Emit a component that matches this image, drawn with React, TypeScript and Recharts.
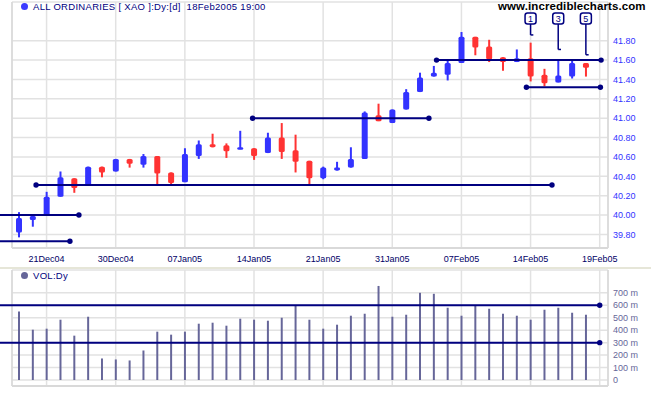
import { Bar, CartesianGrid, ComposedChart, ReferenceDot, ReferenceLine, XAxis, YAxis } from "recharts";

const FONT = "'Liberation Sans', Arial, sans-serif";
const NAVY = "#000080";

// 42 trading days, 17Dec04 .. 18Feb05
const days = [
  "17Dec04", "20Dec04", "21Dec04", "22Dec04", "23Dec04", "24Dec04", "29Dec04", "30Dec04", "31Dec04",
  "04Jan05", "05Jan05", "06Jan05", "07Jan05", "10Jan05", "11Jan05", "12Jan05", "13Jan05", "14Jan05",
  "17Jan05", "18Jan05", "19Jan05", "20Jan05", "21Jan05", "24Jan05", "25Jan05", "27Jan05", "28Jan05",
  "31Jan05", "01Feb05", "02Feb05", "03Feb05", "04Feb05", "07Feb05", "08Feb05", "09Feb05", "10Feb05",
  "11Feb05", "14Feb05", "15Feb05", "16Feb05", "17Feb05", "18Feb05",
];
const open = [
  39.82, 39.95, 40.0, 40.19, 40.38, 40.31, 40.5, 40.45, 40.58, 40.52, 40.61, 40.44, 40.34, 40.61,
  40.73, 40.72, 40.68, 40.69, 40.64, 40.8, 40.67, 40.56, 40.38, 40.46, 40.49, 40.58, 41.03, 40.95,
  41.09, 41.27, 41.43, 41.45, 41.57, 41.84, 41.74, 41.63, 41.58, 41.62, 41.45, 41.37, 41.43, 41.57,
];
const high = [
  40.03, 39.99, 40.24, 40.45, 40.38, 40.5, 40.5, 40.58, 40.58, 40.63, 40.61, 40.44, 40.69, 40.77,
  40.84, 40.74, 40.87, 40.69, 40.85, 40.95, 40.83, 40.56, 40.5, 40.55, 40.7, 41.07, 41.15, 41.09,
  41.3, 41.47, 41.54, 41.6, 41.89, 41.84, 41.81, 41.63, 41.71, 41.78, 41.51, 41.6, 41.6, 41.57,
];
const low = [
  39.77, 39.88, 40.0, 40.19, 40.23, 40.31, 40.39, 40.45, 40.49, 40.49, 40.31, 40.31, 40.34, 40.58,
  40.7, 40.59, 40.68, 40.57, 40.64, 40.58, 40.44, 40.32, 40.37, 40.46, 40.49, 40.58, 40.97, 40.95,
  41.09, 41.27, 41.43, 41.39, 41.57, 41.65, 41.58, 41.49, 41.58, 41.38, 41.33, 41.37, 41.41, 41.43,
];
const close = [
  39.97, 39.99, 40.19, 40.39, 40.28, 40.5, 40.44, 40.58, 40.53, 40.61, 40.43, 40.33, 40.63, 40.73,
  40.7, 40.66, 40.7, 40.61, 40.8, 40.65, 40.55, 40.38, 40.49, 40.49, 40.58, 41.06, 40.97, 41.09,
  41.27, 41.42, 41.47, 41.57, 41.84, 41.73, 41.61, 41.58, 41.62, 41.43, 41.36, 41.44, 41.57, 41.52,
];
// volume, millions
const volume = [
  550, 404, 412, 484, 356, 508, 173, 165, 157, 237, 388, 364, 388, 452, 460, 436, 492, 484, 476,
  500, 596, 484, 412, 444, 516, 532, 755, 508, 524, 700, 692, 580, 516, 596, 572, 532, 516, 484,
  564, 580, 540, 524,
];

const tickDays = [2, 7, 12, 17, 22, 27, 32, 37, 42];
const tickLabels = ["21Dec04", "30Dec04", "07Jan05", "14Jan05", "21Jan05", "31Jan05", "07Feb05", "14Feb05", "19Feb05"];
const priceTicks = [39.8, 40.0, 40.2, 40.4, 40.6, 40.8, 41.0, 41.2, 41.4, 41.6, 41.8];
const volTicks = [0, 100, 200, 300, 400, 500, 600, 700];

// horizontal lines drawn on the chart: [fromDay, toDay, level, dot at start]
const priceLines: [number, number, number, boolean][] = [
  [30.2, 42.1, 41.6, true],
  [36.7, 42.05, 41.32, true],
  [16.9, 29.65, 41.0, true],
  [1.24, 38.55, 40.31, true],
  [-1.4, 4.34, 40.0, false],
  [-1.4, 3.69, 39.73, false],
];
const volLines: [number, number][] = [
  [42.0, 600],
  [42.0, 300],
];

const annDays = [37, 39, 41];
const annLabels = ["1", "3", "5"];
const annEnds = [41.86, 41.71, 41.655];

const rows = days.map((d, i) => ({
  i,
  date: d,
  o: open[i],
  h: high[i],
  l: low[i],
  c: close[i],
  range: [low[i], high[i]],
  vol: volume[i],
}));

const Candle = (props: any) => {
  const { x, y, width, height, payload } = props;
  if (payload == null) return null;
  const top = Math.min(y, y + height);
  const hh = Math.abs(height);
  const span = payload.h - payload.l || 1;
  const py = (v: number) => top + ((payload.h - v) / span) * hh;
  const cx = x + width / 2;
  const color = payload.c >= payload.o ? "#3333ff" : "#ff3333";
  const bTop = py(Math.max(payload.o, payload.c));
  const bBot = py(Math.min(payload.o, payload.c));
  return (
    <g>
      <rect x={cx - 1} y={top} width={2} height={hh} fill={color} />
      <rect x={cx - 3} y={bTop} width={6} height={Math.max(bBot - bTop, 2.5)} rx={1.5} fill={color} />
    </g>
  );
};

const AnnBox = (props: any) => {
  const { cx, cy, label } = props;
  return (
    <g>
      <rect x={cx - 5.5} y={cy - 5.5} width={11} height={11} rx={2.5} fill="#fff" stroke={NAVY} strokeWidth={1.5} />
      <text x={cx} y={cy + 3.3} textAnchor="middle" fontSize={9} fontFamily={FONT} fill={NAVY}>
        {label}
      </text>
    </g>
  );
};

const gridColor = "#e2e2e2";
const frameColor = "#d9d9d9";

export default function App() {
  return (
    <div style={{ position: "absolute", left: 0, top: 0, width: 651, height: 395, background: "#fff", fontFamily: FONT }}>
      <ComposedChart width={651} height={268} data={rows} margin={{ top: 2, right: 0, bottom: 0, left: 12 }}>
        <CartesianGrid stroke={gridColor} strokeWidth={1.5} />
        <XAxis
          dataKey="i"
          type="number"
          domain={[-0.5, 42.6]}
          allowDataOverflow
          ticks={tickDays}
          interval={0}
          tickFormatter={(v) => tickLabels[tickDays.indexOf(v)] ?? ""}
          axisLine={false}
          tickLine={false}
          height={20}
          tick={{ fill: "#000066", fontSize: 9, fontFamily: FONT }}
        />
        <YAxis
          orientation="right"
          domain={[39.66, 42.2]}
          allowDataOverflow
          ticks={priceTicks}
          interval={0}
          width={43}
          axisLine={false}
          tickLine={false}
          tickSize={3}
          tickMargin={2}
          tickFormatter={(v) => Number(v).toFixed(2)}
          tick={{ fill: "#3333ff", fontSize: 9, fontFamily: FONT }}
        />
        <ReferenceLine x={-0.5} stroke={frameColor} strokeWidth={1.5} />
        <ReferenceLine x={42.6} stroke={frameColor} strokeWidth={1.5} />
        <ReferenceLine y={39.66} stroke={frameColor} strokeWidth={2} />
        <Bar dataKey="range" barSize={6} shape={<Candle />} isAnimationActive={false} />
        {priceLines.map(([a, b, lv], k) => (
          <ReferenceLine
            key={"pl" + k}
            segment={[{ x: a, y: lv }, { x: b, y: lv }]}
            stroke={NAVY}
            strokeWidth={2}
            ifOverflow="visible"
          />
        ))}
        {priceLines.map(([a, b, lv, dotStart], k) => [
          dotStart ? (
            <ReferenceDot key={"pa" + k} x={a} y={lv} r={2.7} fill={NAVY} stroke="none" ifOverflow="visible" />
          ) : null,
          <ReferenceDot key={"pb" + k} x={b} y={lv} r={2.7} fill={NAVY} stroke="none" ifOverflow="visible" />,
        ])}
        {annDays.map((d, k) => (
          <ReferenceLine
            key={"av" + k}
            segment={[{ x: d, y: annEnds[k] }, { x: d, y: 41.99 }]}
            stroke={NAVY}
            strokeWidth={1.5}
            ifOverflow="visible"
          />
        ))}
        {annDays.map((d, k) => (
          <ReferenceLine
            key={"ah" + k}
            segment={[{ x: d, y: annEnds[k] }, { x: d + 0.2, y: annEnds[k] }]}
            stroke={NAVY}
            strokeWidth={1.5}
            ifOverflow="visible"
          />
        ))}
        {annDays.map((d, k) => (
          <ReferenceDot
            key={"ab" + k}
            x={d}
            y={42.03}
            ifOverflow="visible"
            shape={(p: any) => <AnnBox {...p} label={annLabels[k]} />}
          />
        ))}
      </ComposedChart>

      <div style={{ position: "absolute", left: 0, top: 267, width: 651, height: 2, background: "#e6e6d8" }} />

      <div style={{ position: "absolute", left: 0, top: 269 }}>
        <ComposedChart width={651} height={126} data={rows} margin={{ top: 1, right: 0, bottom: 9, left: 12 }}>
          <CartesianGrid stroke={gridColor} strokeWidth={1.5} />
          <XAxis dataKey="i" type="number" domain={[-0.5, 42.6]} allowDataOverflow ticks={tickDays} hide />
          <YAxis
            orientation="right"
            domain={[-48, 883]}
            allowDataOverflow
            ticks={volTicks}
            interval={0}
            width={43}
            axisLine={false}
            tickLine={false}
            tickSize={3}
            tickMargin={2}
            tickFormatter={(v) => (v === 0 ? "0" : `${v} m`)}
            tick={{ fill: "#666699", fontSize: 9, fontFamily: FONT }}
          />
          <ReferenceLine x={-0.5} stroke={frameColor} strokeWidth={1.5} />
          <ReferenceLine x={42.6} stroke={frameColor} strokeWidth={1.5} />
          <ReferenceLine y={-48} stroke={frameColor} strokeWidth={2} />
          <Bar dataKey="vol" barSize={2} fill="#666699" isAnimationActive={false} />
          {volLines.map(([b, lv], k) => (
            <ReferenceLine
              key={"vl" + k}
              segment={[{ x: -1.4, y: lv }, { x: b, y: lv }]}
              stroke={NAVY}
              strokeWidth={2}
              ifOverflow="visible"
            />
          ))}
          {volLines.map(([b, lv], k) => (
            <ReferenceDot key={"vd" + k} x={b} y={lv} r={2.7} fill={NAVY} stroke="none" ifOverflow="visible" />
          ))}
        </ComposedChart>
      </div>

      <div style={{ position: "absolute", left: 21, top: 3, width: 7, height: 7, borderRadius: 4, background: "#3b3bff" }} />
      <div style={{ position: "absolute", left: 33, top: 0, fontSize: 9.5, lineHeight: "13px", color: NAVY, whiteSpace: "pre", letterSpacing: 0.3 }}>
        {"ALL ORDINARIES [ XAO ]:Dy:[d]  18Feb2005 19:00"}
      </div>
      <div style={{ position: "absolute", left: 498, top: 0, fontSize: 11.5, lineHeight: "12px", fontWeight: "bold", color: "#000", whiteSpace: "pre", letterSpacing: 0.1 }}>
        www.incrediblecharts.com
      </div>
      <div style={{ position: "absolute", left: 21, top: 272, width: 7, height: 7, borderRadius: 4, background: "#666699" }} />
      <div style={{ position: "absolute", left: 33, top: 269, fontSize: 9.5, lineHeight: "13px", color: NAVY, whiteSpace: "pre", letterSpacing: 0.3 }}>
        VOL:Dy
      </div>
    </div>
  );
}
